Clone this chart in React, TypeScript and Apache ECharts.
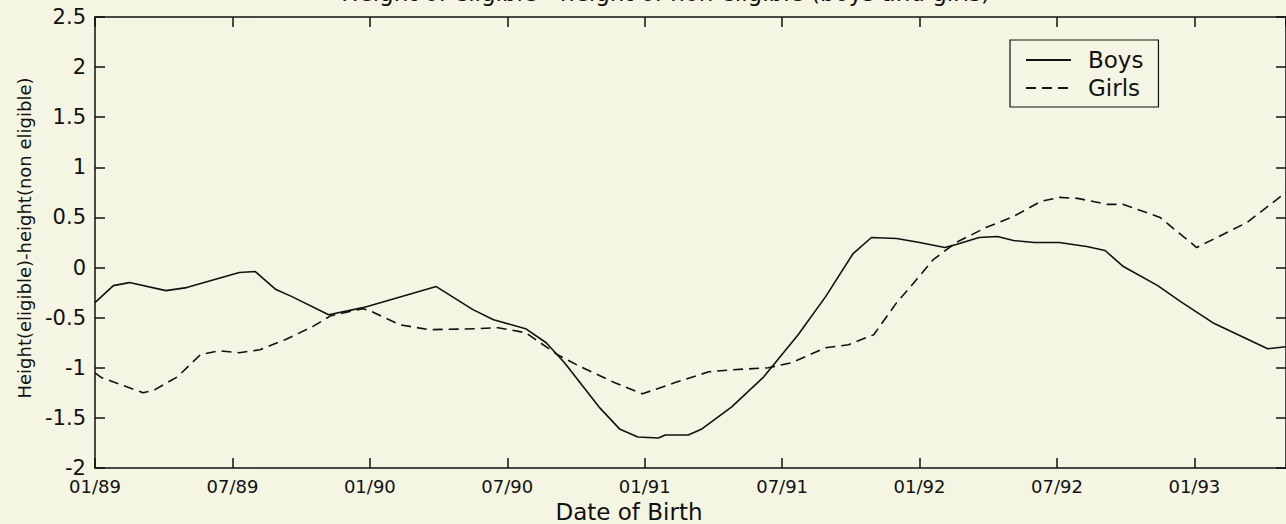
import React, { useEffect, useRef } from "react";
import * as echarts from "echarts";

const xTickLabels = ["01/89", "07/89", "01/90", "07/90", "01/91", "07/91", "01/92", "07/92", "01/93"];

const boysMonths = [0, 0.8, 1.5, 3.1, 4.0, 6.3, 7.0, 7.9, 8.6, 10.2, 11.7, 14.9, 16.5, 17.4, 18.8, 19.7, 20.5, 22.0, 22.9, 23.7, 24.6, 24.9, 25.9, 26.5, 27.8, 29.2, 30.7, 31.9, 33.1, 33.9, 35.0, 36.0, 37.1, 37.6, 38.6, 39.4, 40.1, 41.0, 42.1, 43.3, 44.1, 44.9, 46.4, 47.4, 48.8, 51.2, 52.0];
const boysValues = [-0.35, -0.18, -0.15, -0.23, -0.2, -0.05, -0.04, -0.22, -0.29, -0.47, -0.4, -0.19, -0.42, -0.52, -0.61, -0.75, -0.95, -1.39, -1.61, -1.69, -1.7, -1.67, -1.67, -1.61, -1.39, -1.09, -0.67, -0.29, 0.14, 0.3, 0.29, 0.25, 0.2, 0.23, 0.3, 0.31, 0.27, 0.25, 0.25, 0.21, 0.17, 0.01, -0.18, -0.34, -0.55, -0.81, -0.79];

const girlsMonths = [0, 0.3, 2.1, 2.6, 3.6, 4.6, 5.4, 6.3, 7.2, 8.3, 9.5, 10.3, 11.7, 12.1, 13.3, 14.6, 16.7, 17.6, 18.8, 20.2, 21.2, 22.7, 23.9, 25.3, 26.8, 27.8, 29.4, 30.4, 31.9, 32.9, 34.0, 35.0, 35.5, 36.6, 37.6, 38.9, 40.1, 41.3, 42.1, 42.9, 44.2, 44.9, 46.5, 48.1, 50.3, 52.0];
const girlsValues = [-1.05, -1.1, -1.25, -1.22, -1.09, -0.87, -0.83, -0.85, -0.82, -0.72, -0.59, -0.48, -0.41, -0.44, -0.57, -0.62, -0.61, -0.6, -0.65, -0.87, -0.99, -1.15, -1.26, -1.15, -1.04, -1.02, -1.0, -0.95, -0.8, -0.77, -0.67, -0.35, -0.22, 0.08, 0.25, 0.4, 0.51, 0.66, 0.7, 0.69, 0.63, 0.63, 0.5, 0.2, 0.45, 0.75];

const FONT = "DejaVu Sans";
const BG = "#f4f5e2";
const INK = "#111";

export default function App() {
  const ref = useRef<HTMLDivElement>(null);
  useEffect(() => {
    if (!ref.current) return;
    const chart = echarts.init(ref.current, undefined, { renderer: "svg" });
    const axisCommon = {
      type: "value" as const,
      axisLine: { show: true, onZero: false, lineStyle: { color: INK, width: 1.5 } },
      axisTick: { show: true, inside: true, length: 10, lineStyle: { color: INK, width: 1.5 } },
      splitLine: { show: false },
    };
    chart.setOption({
      animation: false,
      backgroundColor: BG,
      grid: { left: 95, top: 17, width: 1194, height: 451, containLabel: false },
      xAxis: [
        {
          ...axisCommon,
          position: "bottom",
          min: 0,
          max: 52,
          interval: 6,
          axisLabel: {
            show: true,
            margin: 9,
            fontSize: 18,
            fontFamily: FONT,
            color: INK,
            showMaxLabel: false,
            formatter: (v: number) => xTickLabels[Math.round(v / 6)] ?? "",
          },
        },
        {
          ...axisCommon,
          position: "top",
          min: 0,
          max: 52,
          interval: 6,
          axisLabel: { show: false },
        },
      ],
      yAxis: [
        {
          ...axisCommon,
          position: "left",
          min: -2,
          max: 2.5,
          interval: 0.5,
          axisLabel: { show: true, margin: 9, fontSize: 21, fontFamily: FONT, color: INK },
        },
        {
          ...axisCommon,
          position: "right",
          min: -2,
          max: 2.5,
          interval: 0.5,
          axisLabel: { show: false },
        },
      ],
      legend: {
        data: ["Boys", "Girls"],
        orient: "vertical",
        left: 1010,
        top: 40,
        itemWidth: 45,
        itemHeight: 14,
        itemGap: 0,
        padding: [6, 15, 5, 15],
        borderColor: INK,
        borderWidth: 1.2,
        backgroundColor: BG,
        selectedMode: false,
        itemStyle: { opacity: 0 },
        textStyle: { fontSize: 23, fontFamily: FONT, color: INK, lineHeight: 28, padding: [0, 0, 0, 12] },
      },
      series: [
        {
          name: "Boys",
          type: "line",
          symbol: "none",
          data: boysMonths.map((m, i) => [m, boysValues[i]]),
          lineStyle: { color: INK, width: 1.6, type: "solid" },
          itemStyle: { color: INK },
        },
        {
          name: "Girls",
          type: "line",
          symbol: "none",
          data: girlsMonths.map((m, i) => [m, girlsValues[i]]),
          lineStyle: { color: INK, width: 1.6, type: [10, 6] },
          itemStyle: { color: INK },
        },
      ],
      graphic: [
        {
          type: "text",
          x: 24,
          y: 238,
          rotation: Math.PI / 2,
          style: {
            text: "Height(eligible)-height(non eligible)",
            fontSize: 18,
            fontFamily: FONT,
            fill: INK,
            textAlign: "center",
            textVerticalAlign: "middle",
          },
        },
        {
          type: "text",
          x: 629,
          y: 512,
          style: {
            text: "Date of Birth",
            fontSize: 23,
            fontFamily: FONT,
            fill: INK,
            textAlign: "center",
            textVerticalAlign: "middle",
          },
        },
        {
          type: "text",
          x: 990,
          y: 4,
          style: {
            text: "Height of eligible - height of non eligible (boys and girls)",
            fontSize: 23,
            fontFamily: FONT,
            fill: INK,
            textAlign: "right",
            textVerticalAlign: "bottom",
          },
        },
      ],
    });
    return () => chart.dispose();
  }, []);
  return (
    <div
      ref={ref}
      style={{ position: "fixed", left: 0, top: 0, width: 1286, height: 524, background: BG }}
    />
  );
}
